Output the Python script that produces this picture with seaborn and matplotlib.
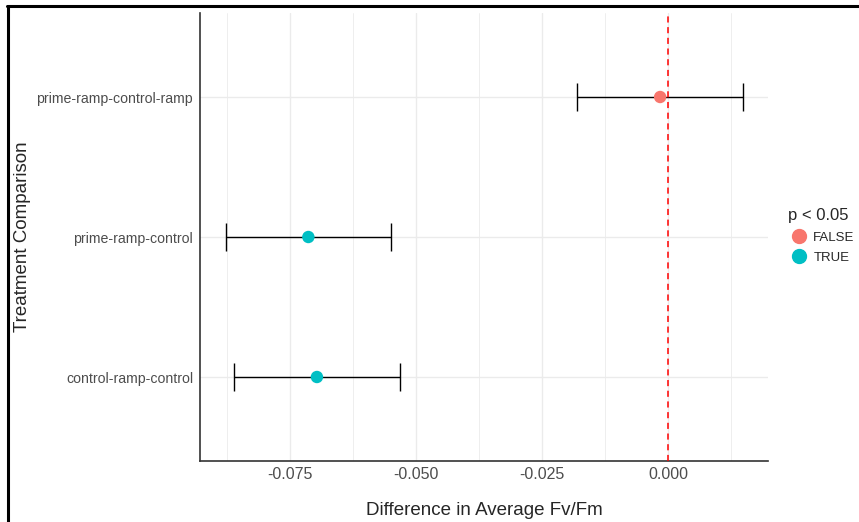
import matplotlib
matplotlib.use('agg')
import matplotlib.pyplot as plt
from matplotlib.lines import Line2D
import seaborn as sns
import numpy as np
import pandas as pd

# comparisons, listed bottom to top
comparisons = ['control-ramp-control', 'prime-ramp-control', 'prime-ramp-control-ramp']
diff = [-0.0697, -0.0714, -0.0016]
lwr = [-0.0861, -0.0877, -0.0181]
upr = [-0.0532, -0.0550, 0.0149]
signif = ['TRUE', 'TRUE', 'FALSE']

x_ticks = [-0.075, -0.050, -0.025, 0.000]
x_minor = [-0.0875, -0.0625, -0.0375, -0.0125, 0.0125]

PALETTE = {'FALSE': '#F8766D', 'TRUE': '#00BFC4'}
GRID = '#EBEBEB'
TICK_GRAY = '#4D4D4D'

sns.set_style('white')
plt.rcParams['font.family'] = ['Liberation Sans', 'DejaVu Sans']

df = pd.DataFrame({'comparison': comparisons, 'diff': diff, 'lwr': lwr,
                   'upr': upr, 'p < 0.05': signif})

fig = plt.figure(figsize=(8.59, 5.22), dpi=100)
ax = fig.add_axes([200 / 859, 1 - 461 / 522, 568 / 859, 448 / 522])

# grid first
for x in x_minor:
    ax.axvline(x, color=GRID, lw=0.6, zorder=0)
for x in x_ticks:
    ax.axvline(x, color=GRID, lw=1.0, zorder=0)
for c in comparisons:
    ax.axhline(c, color=GRID, lw=1.0, zorder=0)

ax.errorbar(df['diff'], df['comparison'],
            xerr=[df['diff'] - df['lwr'], df['upr'] - df['diff']],
            fmt='none', ecolor='black', elinewidth=1.0, capsize=10,
            capthick=1.0, zorder=2)

sns.scatterplot(data=df, x='diff', y='comparison', hue='p < 0.05',
                hue_order=['FALSE', 'TRUE'], palette=PALETTE, s=80,
                edgecolor='none', ax=ax, zorder=3)

ax.axvline(0, color='#FF0000', lw=1.1, ls=(0, (4, 3)), zorder=4)

ax.set_xlim(-0.0929, 0.0198)
ax.set_ylim(-0.6, 2.6)
ax.set_xticks(x_ticks)
ax.set_xticklabels(['%.3f' % v for v in x_ticks])
ax.tick_params(axis='both', length=0, colors=TICK_GRAY)
ax.tick_params(axis='x', labelsize=11.5, pad=4.5)
ax.tick_params(axis='y', labelsize=10.2, pad=5)

for s in ['top', 'right']:
    ax.spines[s].set_visible(False)
for s in ['left', 'bottom']:
    ax.spines[s].set_color('#333333')
    ax.spines[s].set_linewidth(1.2)

ax.set_xlabel('Difference in Average Fv/Fm', fontsize=13.5, labelpad=14)
ax.set_ylabel('Treatment Comparison', fontsize=13.5)
ax.yaxis.set_label_coords(-169 / 568, 0.5)

ax.legend_.remove()
handles = [Line2D([], [], marker='o', ls='none', ms=10, color=PALETTE[k])
           for k in ['FALSE', 'TRUE']]
fig.legend(handles, ['FALSE', 'TRUE'], title='p < 0.05', loc='upper left',
           bbox_to_anchor=(783 / 859, 1 - 203 / 522), frameon=False,
           fontsize=9.5, title_fontsize=12, handlelength=1.6,
           handletextpad=0.3, labelspacing=0.62, alignment='left',
           borderaxespad=0)

# frame pieces at the left and top edge
fig.add_artist(Line2D([7.5 / 859, 7.5 / 859], [0, 1 - 5.5 / 522], color='black',
                      lw=2.2, transform=fig.transFigure))
fig.add_artist(Line2D([6.5 / 859, 1], [1 - 5.5 / 522, 1 - 5.5 / 522],
                      color='black', lw=2.2, transform=fig.transFigure))

fig.savefig('out.png', dpi=100)
